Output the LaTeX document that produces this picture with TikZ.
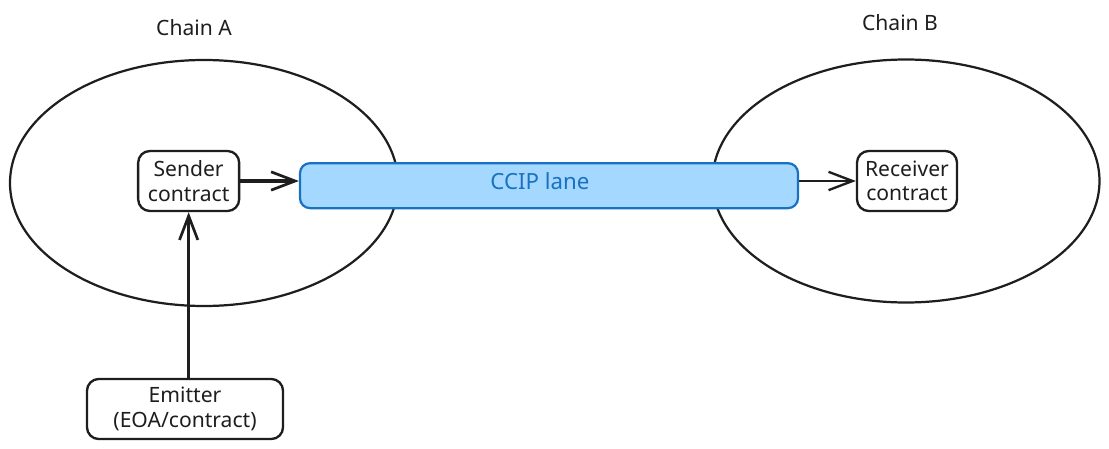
\documentclass[tikz,border=0pt]{standalone}
\usepackage{fontspec}
\usepackage{xcolor}
\usetikzlibrary{arrows.meta}
\usetikzlibrary{shapes.geometric}
\setmainfont{Noto Sans}
\definecolor{inkblack}{HTML}{1E1E1E}
\definecolor{lanefill}{HTML}{A5D8FF}
\definecolor{laneblue}{HTML}{1971C2}
\tikzset{
    chain/.style={draw=inkblack, ellipse, line width=1.9pt, inner sep=0pt},
    contract/.style={draw=inkblack, fill=white, rounded corners=0.35cm, line width=2pt, align=center, inner sep=0pt, font=\fontsize{18}{21}\selectfont, text=inkblack},
    lane/.style={draw=laneblue, fill=lanefill, rounded corners=0.3cm, line width=1.9pt, inner sep=0pt},
    lanetext/.style={font=\fontsize{19}{22}\selectfont, text=laneblue},
    title/.style={font=\fontsize{18}{21}\selectfont, text=inkblack},
    link/.style={draw=inkblack, line width=2.6pt, -{Straight Barb[length=0.72cm, width=0.55cm, line width=2.3pt]}},
    thinlink/.style={draw=inkblack, line width=1.7pt, -{Straight Barb[length=0.72cm, width=0.55cm, line width=2pt]}}
}
\begin{document}
\begin{tikzpicture}
    \useasboundingbox (0,0) rectangle (33.27,13.44);
    \node[chain, minimum width=11.64cm, minimum height=7.38cm] (chainA) at (6.12,7.95) {};
    \node[chain, minimum width=11.61cm, minimum height=7.29cm] (chainB) at (27.18,8.01) {};
    \node[title] (titleA) at (5.82,12.6) {Chain A};
    \node[title] (titleB) at (27,12.75) {Chain B};
    \node[lane, minimum width=14.94cm, minimum height=1.35cm] (ccip) at (16.47,7.87) {};
    \node[lanetext] (ccipText) at (16.2,8.0) {CCIP lane};
    \node[contract, minimum width=3.03cm, minimum height=1.8cm] (sender) at (5.66,8.01) {Sender\\contract};
    \node[contract, minimum width=3cm, minimum height=1.8cm] (receiver) at (27.21,8.01) {Receiver\\contract};
    \node[contract, minimum width=5.88cm, minimum height=1.8cm] (emitter) at (5.55,1.17) {Emitter\\(EOA/contract)};
    \draw[link] (sender.east) -- (sender.east -| ccip.west);
    \draw[thinlink] (receiver.west -| ccip.east) -- (receiver.west);
    \draw[link] (emitter.north -| sender.south) -- (sender.south);
\end{tikzpicture}
\end{document}
